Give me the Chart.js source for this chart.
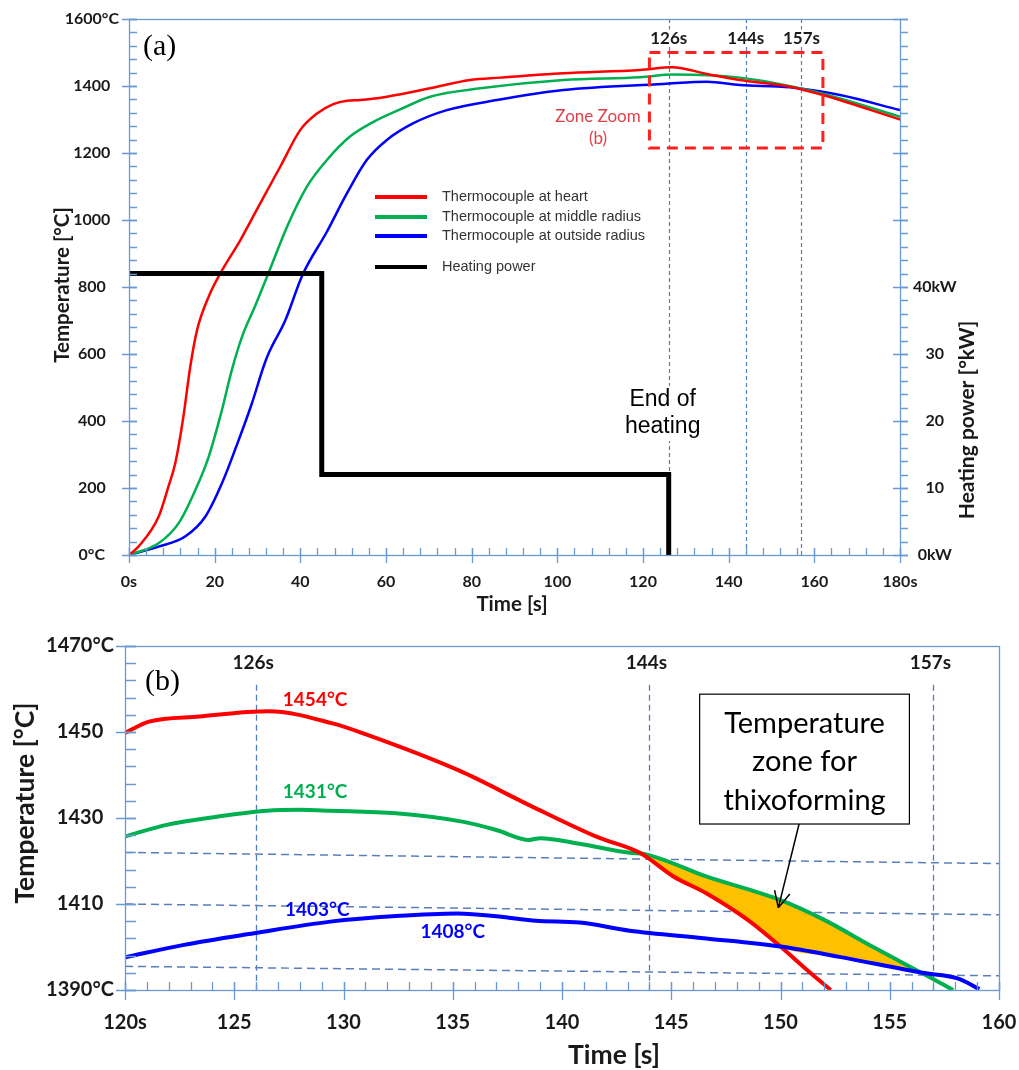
<!DOCTYPE html>
<html>
<head>
<meta charset="utf-8">
<script src="https://cdn.jsdelivr.net/npm/chart.js@4.4.1/dist/chart.umd.min.js"></script>
<style>
  html, body { margin: 0; padding: 0; background: #fff; }
  #wrap { position: relative; width: 1019px; height: 1070px; }
  canvas { position: absolute; left: 0; }
  #chartA { top: 0; }
  #chartB { top: 615px; }
</style>
</head>
<body>
<div id="wrap">
  <canvas id="chartA" width="1019" height="615"></canvas>
  <canvas id="chartB" width="1019" height="455"></canvas>
</div>
<script>
// (a) whole heating cycle
const heartTimeA  = [0, 2.2, 6.9, 9.2, 10.8, 12.7, 14.3, 15.9, 18.6, 21.3, 26, 30.6, 35.3, 40, 43.9, 47.7, 50.9, 54, 60.2, 70.3, 79.6, 86.7, 101.4, 119.3, 126.8, 134.9, 142.6, 154.3, 162, 180];
const heartTempA  = [0, 25, 114, 204, 274, 413, 562, 672, 771, 840, 940, 1049, 1159, 1269, 1318, 1346, 1356, 1358, 1368, 1393, 1418, 1425, 1438, 1448, 1456, 1436, 1418, 1398, 1373, 1300];
const middleTimeA = [0, 6.9, 11.6, 15.5, 18.6, 21.7, 24, 26.4, 29.5, 32.4, 36.9, 41.5, 46.2, 51.6, 57.1, 63.3, 70.3, 82, 101.4, 119.3, 127, 142.6, 155, 166, 180];
const middleTempA = [0, 35, 95, 194, 293, 433, 552, 652, 745, 836, 980, 1099, 1179, 1249, 1293, 1330, 1368, 1393, 1418, 1426, 1434, 1425, 1398, 1363, 1308];
const outerTimeA  = [0, 6.9, 13.1, 17.8, 21.7, 25.6, 28.7, 31.4, 32.6, 36.5, 40.5, 46.2, 50.9, 55.5, 60.2, 66.4, 74.2, 85.9, 101.4, 124.7, 134.9, 142.6, 154.3, 166, 180];
const outerTempA  = [0, 25, 55, 114, 214, 343, 453, 562, 602, 701, 836, 965, 1080, 1179, 1239, 1289, 1328, 1358, 1388, 1406, 1413, 1403, 1396, 1373, 1328];
const powerTime   = [0, 45, 45, 126, 126];
const powerKW     = [42, 42, 12, 12, 0];

const timeTicksA  = [0, 20, 40, 60, 80, 100, 120, 140, 160, 180];
const timeLabelsA = ['0s', '20', '40', '60', '80', '100', '120', '140', '160', '180s'];
const tempTicksA  = [0, 200, 400, 600, 800, 1000, 1200, 1400, 1600];
const tempLabelsA = ['0°C', '200', '400', '600', '800', '1000', '1200', '1400', '1600°C'];
const powerTicks  = [0, 10, 20, 30, 40, 50, 60, 70, 80];
const powerLabels = ['0kW', '10', '20', '30', '40kW', '', '', '', ''];

const markerTimes  = [126, 144, 157];
const markerLabels = ['126s', '144s', '157s'];
const zoomBoxTime  = [121.5, 162];
const zoomBoxTemp  = [1215, 1500];

// (b) zoom 120-160 s
const heartTimeB  = [120, 121.1, 123.4, 126.6, 129.5, 131, 135.3, 138.5, 141.6, 143.6, 145.1, 146.6, 148.5, 150, 151.2, 152.3];
const heartTempB  = [1449.8, 1452.4, 1453.6, 1454.8, 1452, 1449.5, 1441, 1433, 1425.6, 1421.8, 1416.4, 1412.5, 1406.3, 1400.1, 1394.7, 1390];
const middleTimeB = [120, 121.9, 124.2, 126.5, 128, 129.4, 132.4, 135.5, 137, 138.5, 139, 140.8, 143.1, 143.8, 146.6, 150, 152, 154.2, 156.6, 157.9];
const middleTempB = [1425.7, 1428.4, 1430.3, 1431.7, 1431.9, 1431.7, 1431.1, 1429.1, 1427.2, 1424.9, 1425.3, 1424, 1421.9, 1421.6, 1416.4, 1410.9, 1406.3, 1400.1, 1393.6, 1390];
const outerTimeB  = [120, 122.7, 125.9, 129.4, 132.4, 135.2, 137.3, 138.8, 140.8, 143.1, 146.6, 150, 152.7, 156.5, 158.1, 159.1];
const outerTempB  = [1397.6, 1400.5, 1403.2, 1405.9, 1407.2, 1407.8, 1407, 1406.1, 1405.7, 1403.8, 1402, 1400.1, 1397.7, 1394, 1392.7, 1390.2];
const zoneTopTime = [143.8, 146.6, 150, 152, 154.2, 156.6];
const zoneTopTemp = [1421.6, 1416.4, 1410.9, 1406.3, 1400.1, 1393.6];
const zoneLowTime = [143.8, 145.1, 146.6, 148.5, 150, 152.7, 156.6];
const zoneLowTemp = [1421.6, 1416.4, 1412.5, 1406.3, 1400.1, 1397.7, 1393.6];
const guideTime   = [120, 160];
const guideTemps  = [[1422, 1419.4], [1410, 1407.5], [1395.5, 1393.3]];

const timeTicksB  = [120, 125, 130, 135, 140, 145, 150, 155, 160];
const timeLabelsB = ['120s', '125', '130', '135', '140', '145', '150', '155', '160'];
const tempTicksB  = [1390, 1410, 1430, 1450, 1470];
const tempLabelsB = ['1390°C', '1410', '1430', '1450', '1470°C'];

const peakLabels = ['1454°C', '1431°C', '1403°C', '1408°C'];
const peakTime   = [128.7, 128.7, 128.8, 135];
const peakTemp   = [1457.4, 1436, 1408.6, 1403.5];
const noteBoxTime = [146.3, 155.9];
const noteBoxTemp = [1428.6, 1458.8];
const noteArrowTime = [150.85, 149.9];
const noteArrowTemp = [1428.6, 1409.1];

const RED = '#ff0000', GREEN = '#00b050', BLUE = '#0000ff', ORANGE = '#ffc000';
const AXIS = '#6a9ad4', GUIDE = '#4f7fc0';

Chart.defaults.font.family = 'Lato';

function pts(xs, ys) { return xs.map((x, i) => ({ x: x, y: ys[i] })); }

function series(label, xs, ys, color, width, extra) {
  return Object.assign({
    label: label, data: pts(xs, ys), borderColor: color, backgroundColor: color,
    borderWidth: width, pointRadius: 0, fill: false, cubicInterpolationMode: 'monotone'
  }, extra || {});
}

function axis(o) {
  return {
    type: 'linear', position: o.position, min: o.min, max: o.max,
    grid: { display: false, drawTicks: false }, border: { display: false },
    afterBuildTicks: s => { s.ticks = o.ticks.map(v => ({ value: v })); },
    afterFit: s => {
      if (s.isHorizontal()) s.height = o.size; else s.width = o.size;
      // labels may overhang, keep the plot area where the picture has it
      s.paddingLeft = s.paddingRight = s.paddingTop = s.paddingBottom = 0;
    },
    ticks: {
      autoSkip: false, maxRotation: 0, padding: o.pad, crossAlign: o.cross, color: '#1a1a1a',
      font: { size: o.font, weight: 'bold' }, callback: (v, i) => o.labels[i]
    }
  };
}

function tickRow(ctx, scale, step, pos, a, b) {
  const n = Math.round((scale.max - scale.min) / step);
  ctx.beginPath();
  for (let i = 0; i <= n; i++) {
    const p = Math.round(scale.getPixelForValue(scale.min + i * step)) + 0.5;
    if (scale.isHorizontal()) { ctx.moveTo(p, pos + a); ctx.lineTo(p, pos + b); }
    else { ctx.moveTo(pos + a, p); ctx.lineTo(pos + b, p); }
  }
  ctx.stroke();
}

function frame(ctx, ca) {
  ctx.save();
  ctx.strokeStyle = AXIS; ctx.lineWidth = 1.3;
  ctx.strokeRect(Math.round(ca.left) + 0.5, Math.round(ca.top) + 0.5,
    Math.round(ca.right - ca.left), Math.round(ca.bottom - ca.top));
  ctx.restore();
}

function label(ctx, str, x, y, font, color, align, bg) {
  ctx.save();
  ctx.font = font; ctx.textAlign = align || 'center'; ctx.textBaseline = 'middle';
  if (bg) {
    const w = ctx.measureText(str).width;
    const left = align === 'left' ? x : align === 'right' ? x - w : x - w / 2;
    ctx.fillStyle = '#fff';
    ctx.fillRect(left - 3, y - bg / 2, w + 6, bg);
  }
  ctx.fillStyle = color;
  ctx.fillText(str, x, y);
  ctx.restore();
}

function vlabel(ctx, str, x, y, font, color) {
  ctx.save();
  ctx.translate(x, y); ctx.rotate(-Math.PI / 2);
  ctx.font = font; ctx.textAlign = 'center'; ctx.textBaseline = 'middle';
  ctx.fillStyle = color; ctx.fillText(str, 0, 0);
  ctx.restore();
}

// ---------- chart (a) ----------
const decorA = {
  id: 'decorA',
  beforeDatasetsDraw(chart) {
    const { ctx, chartArea: ca, scales: { x } } = chart;
    ctx.save();
    ctx.strokeStyle = GUIDE; ctx.lineWidth = 1.2; ctx.setLineDash([4, 3]);
    markerTimes.forEach(t => {
      const px = Math.round(x.getPixelForValue(t)) + 0.5;
      ctx.beginPath(); ctx.moveTo(px, ca.top); ctx.lineTo(px, ca.bottom); ctx.stroke();
    });
    ctx.restore();
  },
  afterDatasetsDraw(chart) {
    const { ctx, scales: { x, y } } = chart;
    // zoom box
    const x0 = x.getPixelForValue(zoomBoxTime[0]), x1 = x.getPixelForValue(zoomBoxTime[1]);
    const y0 = y.getPixelForValue(zoomBoxTemp[1]), y1 = y.getPixelForValue(zoomBoxTemp[0]);
    ctx.save();
    ctx.strokeStyle = '#ff2020'; ctx.lineWidth = 3; ctx.setLineDash([11, 7]);
    ctx.strokeRect(x0, y0, x1 - x0, y1 - y0);
    ctx.restore();
    label(ctx, 'Zone Zoom', 598, 117, '17px Lato', '#e0404a');
    label(ctx, '(b)', 598, 139, '17px Lato', '#e0404a');

    markerTimes.forEach((t, i) => {
      label(ctx, markerLabels[i], x.getPixelForValue(t), y.getPixelForValue(1543), 'bold 17px Lato', '#1a1a1a', 'center', 17);
    });
    const ex = x.getPixelForValue(126) - 6;
    label(ctx, 'End of', ex, 400, '23px "Liberation Sans"', '#000', 'center', 28);
    label(ctx, 'heating', ex, 427, '23px "Liberation Sans"', '#000', 'center', 28);

    // legend
    const rows = [197, 217, 236, 267];
    chart.data.datasets.forEach((ds, i) => {
      ctx.save();
      ctx.strokeStyle = ds.borderColor; ctx.lineWidth = 4;
      ctx.beginPath(); ctx.moveTo(375, rows[i]); ctx.lineTo(427, rows[i]); ctx.stroke();
      ctx.restore();
      label(ctx, ds.label, 442, rows[i], '14.5px "Liberation Sans"', '#333', 'left');
    });
  },
  afterDraw(chart) {
    const { ctx, chartArea: ca, scales: { x, y, yP } } = chart;
    frame(ctx, ca);
    ctx.save();
    ctx.strokeStyle = AXIS; ctx.lineWidth = 1.3;
    tickRow(ctx, y, 40, ca.left, 0, 8);
    tickRow(ctx, y, 200, ca.left, -7, 8);
    tickRow(ctx, x, 4, ca.bottom, -7, 0);
    tickRow(ctx, x, 20, ca.bottom, -7, 8);
    tickRow(ctx, yP, 2, ca.right, 0, 8);
    tickRow(ctx, yP, 10, ca.right, -7, 8);
    ctx.restore();
    label(ctx, '(a)', 143, 47, '30px "Liberation Serif"', '#000', 'left');
    vlabel(ctx, 'Temperature [°C]', 62, 285, 'bold 20.5px Lato', '#1a1a1a');
    vlabel(ctx, 'Heating power [°kW]', 967, 420, 'bold 21px Lato', '#1a1a1a');
    label(ctx, 'Time [s]', 512, 604, 'bold 20.5px Lato', '#1a1a1a');
  }
};

new Chart(document.getElementById('chartA'), {
  type: 'line',
  data: {
    datasets: [
      series('Thermocouple at heart', heartTimeA, heartTempA, RED, 2.5, { order: 1 }),
      series('Thermocouple at middle radius', middleTimeA, middleTempA, GREEN, 2.5, { order: 1 }),
      series('Thermocouple at outside radius', outerTimeA, outerTempA, BLUE, 2.5, { order: 1 }),
      series('Heating power', powerTime, powerKW, '#000', 5, { yAxisID: 'yP', order: 0, cubicInterpolationMode: 'default', tension: 0 })
    ]
  },
  options: {
    responsive: false, animation: false, devicePixelRatio: 1,
    layout: { padding: { top: 19, left: 0, right: 0, bottom: 0 } },
    plugins: { legend: { display: false }, tooltip: { enabled: false } },
    scales: {
      x: axis({ position: 'bottom', min: 0, max: 180, ticks: timeTicksA, labels: timeLabelsA, size: 60, pad: 17, font: 16, cross: 'near' }),
      y: axis({ position: 'left', min: 0, max: 1600, ticks: tempTicksA, labels: tempLabelsA, size: 129, pad: 10, font: 16, cross: 'center' }),
      yP: axis({ position: 'right', min: 0, max: 80, ticks: powerTicks, labels: powerLabels, size: 119, pad: 13, font: 16, cross: 'center' })
    }
  },
  plugins: [decorA]
});

// ---------- chart (b) ----------
const decorB = {
  id: 'decorB',
  beforeDatasetsDraw(chart) {
    const { ctx, chartArea: ca, scales: { x, y } } = chart;
    ctx.save();
    ctx.strokeStyle = GUIDE; ctx.lineWidth = 1.3; ctx.setLineDash([6, 4]);
    markerTimes.forEach(t => {
      const px = Math.round(x.getPixelForValue(t)) + 0.5;
      ctx.beginPath(); ctx.moveTo(px, y.getPixelForValue(1461)); ctx.lineTo(px, ca.bottom); ctx.stroke();
    });
    ctx.restore();
  },
  afterDatasetsDraw(chart) {
    const { ctx, scales: { x, y } } = chart;
    markerTimes.forEach((t, i) => {
      label(ctx, markerLabels[i], x.getPixelForValue(t) - 3, y.getPixelForValue(1466), 'bold 19px Lato', '#1a1a1a');
    });
    const colors = [RED, GREEN, BLUE, BLUE];
    peakLabels.forEach((s, i) => {
      label(ctx, s, x.getPixelForValue(peakTime[i]), y.getPixelForValue(peakTemp[i]), 'bold 19px Lato', colors[i]);
    });
    // note box + arrow
    const bx0 = x.getPixelForValue(noteBoxTime[0]), bx1 = x.getPixelForValue(noteBoxTime[1]);
    const by0 = y.getPixelForValue(noteBoxTemp[1]), by1 = y.getPixelForValue(noteBoxTemp[0]);
    ctx.save();
    ctx.fillStyle = '#fff'; ctx.fillRect(bx0, by0, bx1 - bx0, by1 - by0);
    ctx.strokeStyle = '#000'; ctx.lineWidth = 1.2; ctx.strokeRect(bx0, by0, bx1 - bx0, by1 - by0);
    const ax0 = x.getPixelForValue(noteArrowTime[0]), ay0 = y.getPixelForValue(noteArrowTemp[0]);
    const ax1 = x.getPixelForValue(noteArrowTime[1]), ay1 = y.getPixelForValue(noteArrowTemp[1]);
    const ang = Math.atan2(ay1 - ay0, ax1 - ax0);
    ctx.beginPath(); ctx.moveTo(ax0, ay0); ctx.lineTo(ax1, ay1);
    [-0.45, 0.45].forEach(d => {
      ctx.moveTo(ax1, ay1);
      ctx.lineTo(ax1 - 18 * Math.cos(ang + d), ay1 - 18 * Math.sin(ang + d));
    });
    ctx.lineWidth = 1.5; ctx.stroke();
    ctx.restore();
    const cx = (bx0 + bx1) / 2;
    ['Temperature', 'zone for', 'thixoforming'].forEach((s, i) => {
      label(ctx, s, cx, by0 + 29 + i * 38.5, '29px Lato', '#000');
    });
  },
  afterDraw(chart) {
    const { ctx, chartArea: ca, scales: { x, y } } = chart;
    frame(ctx, ca);
    ctx.save();
    ctx.strokeStyle = AXIS; ctx.lineWidth = 1.3;
    tickRow(ctx, y, 4, ca.left, 0, 11);
    tickRow(ctx, y, 20, ca.left, -9, 11);
    tickRow(ctx, x, 1, ca.bottom, -8, 0);
    tickRow(ctx, x, 5, ca.bottom, -8, 10);
    ctx.restore();
    label(ctx, '(b)', 145, 67, '30px "Liberation Serif"', '#000', 'left');
    vlabel(ctx, 'Temperature [°C]', 25, 188, 'bold 26.5px Lato', '#1a1a1a');
    label(ctx, 'Time [s]', 614, 440, 'bold 26.5px Lato', '#1a1a1a');
  }
};

const guideSets = guideTemps.map(g => series('guide', guideTime, g, '#5a7fb8', 1.5,
  { borderDash: [8, 5], order: 6, cubicInterpolationMode: 'default', tension: 0 }));

new Chart(document.getElementById('chartB'), {
  type: 'line',
  data: {
    datasets: [
      series('Thermocouple at heart', heartTimeB, heartTempB, RED, 4, { order: 1 }),
      series('Thermocouple at middle radius', middleTimeB, middleTempB, GREEN, 4, { order: 2 }),
      series('Thermocouple at outside radius', outerTimeB, outerTempB, BLUE, 4, { order: 0 }),
      series('zone top', zoneTopTime, zoneTopTemp, 'rgba(0,0,0,0)', 0,
        { order: 5, backgroundColor: ORANGE, fill: { target: '+1', above: ORANGE, below: ORANGE } }),
      series('zone low', zoneLowTime, zoneLowTemp, 'rgba(0,0,0,0)', 0, { order: 5 })
    ].concat(guideSets)
  },
  options: {
    responsive: false, animation: false, devicePixelRatio: 1,
    layout: { padding: { top: 31, left: 0, right: 20, bottom: 0 } },
    plugins: { legend: { display: false }, tooltip: { enabled: false } },
    scales: {
      x: axis({ position: 'bottom', min: 120, max: 160, ticks: timeTicksB, labels: timeLabelsB, size: 80, pad: 21, font: 20, cross: 'near' }),
      y: axis({ position: 'left', min: 1390, max: 1470, ticks: tempTicksB, labels: tempLabelsB, size: 125, pad: 11, font: 20, cross: 'center' })
    }
  },
  plugins: [decorB]
});
</script>
</body>
</html>
